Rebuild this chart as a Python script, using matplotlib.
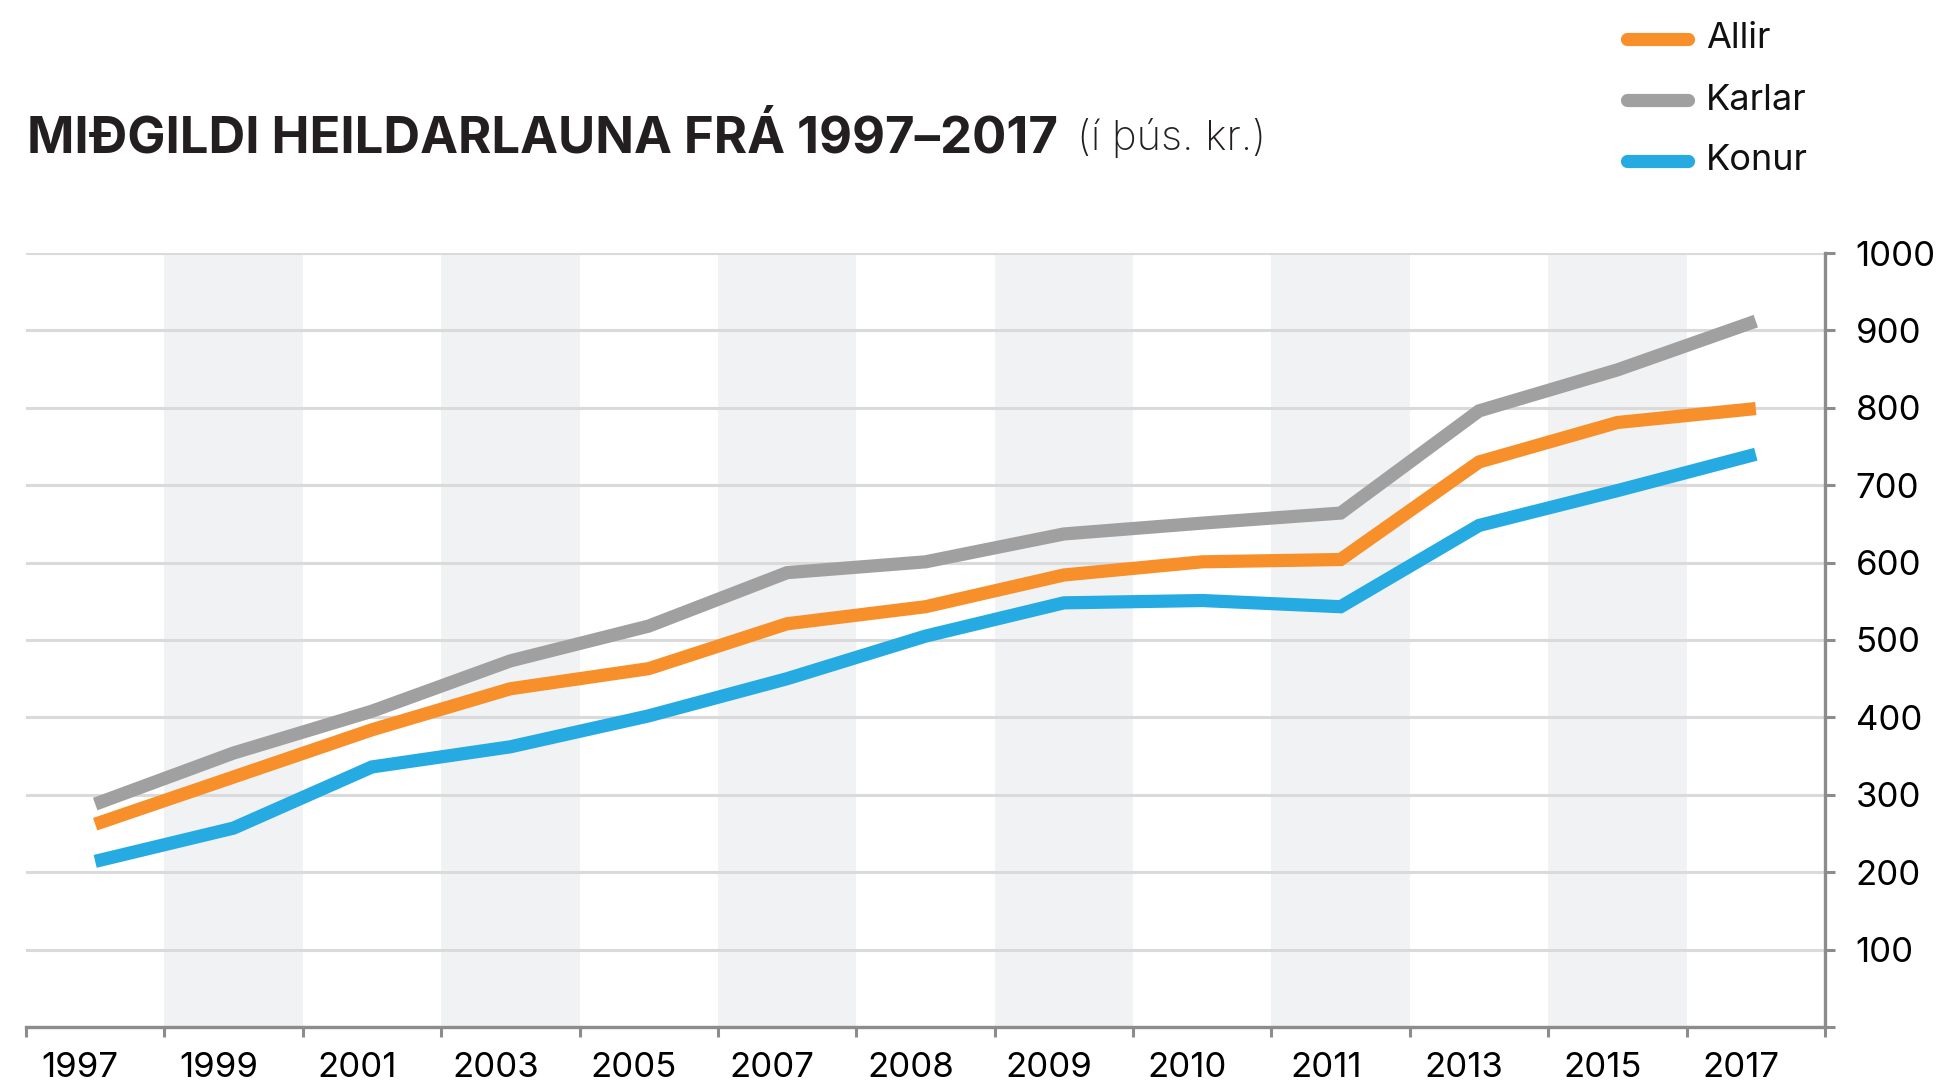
import matplotlib.pyplot as plt
from matplotlib.transforms import ScaledTranslation

plt.rcParams['font.family'] = ['Inter', 'DejaVu Sans']

# gögn
years = ["1997", "1999", "2001", "2003", "2005", "2007", "2008",
         "2009", "2010", "2011", "2013", "2015", "2017"]
allir = [262, 323, 384, 437, 463, 521, 543, 584, 601, 604, 730, 781, 799]
karlar = [288, 354, 408, 473, 518, 587, 601, 637, 651, 664, 796, 849, 912]
konur = [214, 257, 336, 362, 402, 450, 505, 548, 551, 543, 648, 693, 740]
y_ticks = [0, 100, 200, 300, 400, 500, 600, 700, 800, 900, 1000]

series = [("Allir", allir, "#F7902A"),
          ("Karlar", karlar, "#A0A0A0"),
          ("Konur", konur, "#25AAE1")]

fig = plt.figure(figsize=(19.52, 10.84), dpi=100)
ax = fig.add_axes([26 / 1952, 1 - 1027 / 1084, 1799 / 1952, 774 / 1084])

n = len(years)
xs = list(range(n))

# gráir borðar
for i in range(1, n, 2):
    ax.axvspan(i - 0.5, i + 0.5, color="#F1F2F4", zorder=0, lw=0)

ax.set_xlim(-0.5, n - 0.5)
ax.set_ylim(0, 1000)
ax.set_yticks(y_ticks)
ax.set_yticklabels([""] + [str(v) for v in y_ticks[1:]])
ax.yaxis.tick_right()
ax.grid(axis="y", color="#DADADA", lw=2.2, zorder=1)
ax.set_axisbelow(True)

for name, vals, col in series:
    ax.plot(xs, vals, color=col, lw=9.5, solid_capstyle="butt",
            solid_joinstyle="miter", zorder=3)

# x ásinn: tikk á mörkum, merki í miðju
ax.set_xticks([i - 0.5 for i in range(n + 1)], minor=True)
ax.set_xticks(xs)
ax.set_xticklabels(years)
ax.tick_params(axis="x", which="major", length=0, pad=18, labelsize=25)
ax.tick_params(axis="x", which="minor", length=7, width=2.2, color="#8C8C8C",
               direction="out")
ax.tick_params(axis="y", length=7, width=2.2, color="#8C8C8C", pad=15,
               labelsize=25, direction="out")
for lab in ax.get_xticklabels():
    lab.set_transform(lab.get_transform() + ScaledTranslation(-15 / 100, 0, fig.dpi_scale_trans))
for lab in ax.get_yticklabels():
    lab.set_horizontalalignment("left")

for s in ["top", "left"]:
    ax.spines[s].set_visible(False)
for s in ["bottom", "right"]:
    ax.spines[s].set_color("#8C8C8C")
    ax.spines[s].set_linewidth(2.4)

# titill - stærð löguð að breidd
title = fig.text(27 / 1952, 1 - 138 / 1084, "MIÐGILDI HEILDARLAUNA FRÁ 1997–2017",
                 fontsize=30, fontweight="bold", color="#231F20", va="center", ha="left")
fig.canvas.draw()
w = title.get_window_extent().width
title.set_fontsize(30 * 1031 / w)
fig.canvas.draw()
bb = title.get_window_extent()
fig.text(bb.x1 / 1952 + 19 / 1952, 1 - 138 / 1084, "(í þús. kr.)", fontsize=30,
         fontweight="light", color="#231F20", va="center", ha="left")

# skýringar
for k, (name, vals, col) in enumerate(series):
    yy = 1 - (39 + 61 * k) / 1084
    fig.add_artist(plt.Line2D([1627 / 1952, 1688 / 1952], [yy, yy], color=col,
                              lw=9.5, solid_capstyle="round", transform=fig.transFigure))
    fig.text(1706 / 1952, yy, name, fontsize=26, va="center", ha="left", color="#111111")

fig.savefig("out.png", dpi=100)
